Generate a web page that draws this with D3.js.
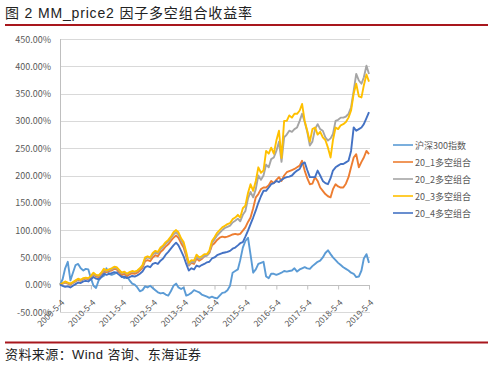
<!DOCTYPE html>
<html><head><meta charset="utf-8">
<script src="https://cdn.jsdelivr.net/npm/d3@7"></script>
<style>body{margin:0;background:#fff}svg{display:block}</style>
</head><body><svg id="c" width="494" height="367"></svg>
<script>
const title = "图 2 MM_price2 因子多空组合收益率";
const source = "资料来源：Wind 咨询、东海证券";
const seriesNames = ["沪深300指数","20_1多空组合","20_2多空组合","20_3多空组合","20_4多空组合"];
const seriesColors = ["#5B9BD5","#ED7D31","#A5A5A5","#FFC000","#4472C4"];
const startDate = "2009-05-04", endDate = "2019-05-04";
const yTicks = [-50,0,50,100,150,200,250,300,350,400,450];
const xTickYears = [2009,2010,2011,2012,2013,2014,2015,2016,2017,2018,2019];

const csi300 = [0,10,30,42,8,22,36,38,30,26, 29,28,12,-2,-6,8,14,16,30,20, 18,20,22,24,16,12,15,8,2,0,
 -5,-12,-10,-3,-5,-2,-6,-10,-14,-16, -15,-18,-20,-12,-2,2,-5,-8,-5,-20, -18,-15,-10,-12,-14,-18,-20,-22,-24,-22,
 -24,-25,-20,-15,-14,-10,-2,22,25,28, 45,68,80,86,55,22,28,38,40,42, 15,12,20,20,18,20,22,25,24,25,
 26,30,24,28,30,32,30,29,34,38, 42,44,50,58,63,56,50,45,40,36, 32,29,26,22,20,14,15,26,48,56, 40];
const ls20_1 = [0,2,4,2,0,3,6,9,7,10, 11,10,14,19,15,14,19,25,23,25, 26,29,28,23,18,20,16,19,21,20,
 22,26,31,43,45,43,50,54,52,60, 64,70,74,80,86,90,86,76,68,52, 35,40,38,48,44,47,52,54,58,72,
 76,82,86,88,87,88,90,92,93,92, 93,99,105,115,123,140,160,166,175,178, 178,182,190,186,192,197,190,200,206,208,
 210,212,215,218,227,209,195,184,185,197, 190,178,172,166,162,160,175,184,180,178, 178,185,197,215,233,239,215,225,233,245, 239];
const ls20_2 = [0,2,5,3,1,4,7,10,8,11, 12,11,15,20,17,16,21,27,25,27, 28,31,30,26,21,23,19,22,24,23,
 25,29,34,47,50,48,55,59,57,65, 69,75,79,85,92,96,92,82,74,56, 36,42,41,51,47,49,53,53,59,76,
 83,90,95,100,104,106,108,114,117,121, 116,128,135,158,170,160,175,200,192,200, 220,215,230,233,245,262,225,270,275,282,
 280,285,288,300,313,298,280,255,262,285, 294,285,282,270,264,268,276,300,302,306, 306,308,313,325,355,386,374,368,380,401, 386];
const ls20_3 = [0,3,6,4,2,5,8,11,9,12, 13,12,16,22,18,17,22,29,26,28, 30,33,32,27,22,24,20,23,25,24,
 26,30,36,50,52,50,58,62,60,68, 72,78,82,88,96,100,96,85,78,60, 40,45,44,55,50,52,56,56,62,80,
 87,95,100,105,108,111,113,120,123,128, 123,140,145,168,184,172,190,215,205,209, 245,240,251,240,264,282,232,300,300,310,
 306,313,313,319,331,300,282,262,285,288, 275,280,270,265,251,233,265,288,285,292, 294,298,306,319,350,368,345,343,365,385, 372];
const ls20_4 = [0,-2,-4,-3,-5,-2,1,4,3,6, 7,6,10,14,11,10,14,20,18,20, 21,23,22,18,14,15,12,14,16,15,
 17,20,24,32,34,32,38,40,38,44, 48,55,60,66,72,77,72,62,52,38, 26,30,28,35,33,36,38,41,42,48,
 50,54,56,58,59,60,62,66,68,72, 76,78,88,99,111,123,136,150,162,172, 172,178,184,186,190,188,192,195,197,198,
 200,205,209,212,221,224,210,197,197,197, 209,200,190,186,184,195,209,215,218,221, 221,224,227,245,288,282,285,288,294,305, 316];
const seriesValues = [csi300, ls20_1, ls20_2, ls20_3, ls20_4];

const parse = d3.timeParse("%Y-%m-%d");
const t0 = parse(startDate), t1 = parse(endDate);
const months = d3.range(csi300.length).map(i => d3.timeMonth.offset(t0, i));

const svg = d3.select("#c");
svg.append("rect").attr("width",494).attr("height",367).attr("fill","#fff");

const L = 60, R = 370, T = 39, B = 312;
const x = d3.scaleTime().domain([t0, t1]).range([L, 369]);
const y = d3.scaleLinear().domain([-50, 450]).range([B, T]);
const font = "'Noto Sans CJK SC','Liberation Sans',sans-serif";

// title & source
svg.append("text").attr("x",5).attr("y",18).attr("font-family","'Liberation Sans','Noto Sans CJK SC',sans-serif")
  .attr("font-size",14).attr("fill","#222").attr("textLength",247).attr("lengthAdjust","spacing").text(title);
svg.append("line").attr("x1",5).attr("x2",488).attr("y1",25).attr("y2",25).attr("stroke","#A8171D").attr("stroke-width",2);
svg.append("line").attr("x1",5).attr("x2",488).attr("y1",342.5).attr("y2",342.5).attr("stroke","#A8171D").attr("stroke-width",2);
svg.append("text").attr("x",5).attr("y",359).attr("font-family","'Liberation Sans','Noto Sans CJK SC',sans-serif")
  .attr("font-size",13).attr("fill","#222").attr("textLength",196).attr("lengthAdjust","spacing").text(source);

// gridlines
svg.append("g").selectAll("line").data(yTicks).join("line")
  .attr("x1",L).attr("x2",R).attr("y1",d=>Math.round(y(d))+0.5).attr("y2",d=>Math.round(y(d))+0.5)
  .attr("stroke","#D9D9D9").attr("stroke-width",1);
// y labels
svg.append("g").selectAll("text").data(yTicks).join("text")
  .attr("x",51).attr("y",d=>y(d)+3.5).attr("text-anchor","end")
  .attr("font-family",font).attr("font-size",9).attr("fill","#595959")
  .text(d=>d.toFixed(2)+"%");
svg.append("line").attr("x1",L+0.5).attr("x2",L+0.5).attr("y1",T).attr("y2",B).attr("stroke","#BFBFBF");

// x axis at 0
const xTicks = xTickYears.map(yr => new Date(yr,4,4));
const xAxis = d3.axisBottom(x).tickValues(xTicks).tickSize(4).tickFormat("");
const gx = svg.append("g").attr("transform",`translate(0,${Math.round(y(0))+0.5})`).call(xAxis);
gx.select(".domain").attr("stroke","#BFBFBF").attr("d",`M${L},0H${R}`);
gx.selectAll(".tick line").attr("stroke","#BFBFBF");
const fmt = d3.timeFormat("%Y-%-m-%-d");
svg.append("g").selectAll("text").data(xTicks).join("text")
  .attr("transform",d=>`translate(${x(d)+3},${301}) rotate(-45)`)
  .attr("text-anchor","end").attr("dy","0.35em")
  .attr("font-family",font).attr("font-size",8.5).attr("fill","#595959")
  .text(d=>fmt(d));

// lines
const line = d3.line().x((d,i)=>x(months[i])).y(d=>y(d));
seriesValues.forEach((vals,k)=>{
  svg.append("path").datum(vals).attr("d",line).attr("fill","none")
    .attr("stroke",seriesColors[k]).attr("stroke-width",1.9).attr("stroke-linejoin","round");
});

// legend
const lg = svg.append("g").selectAll("g").data(seriesNames).join("g")
  .attr("transform",(d,i)=>`translate(393,${145+i*17})`);
lg.append("line").attr("x1",0).attr("x2",20).attr("stroke",(d,i)=>seriesColors[i]).attr("stroke-width",1.6);
lg.append("text").attr("x",22).attr("y",3.5).attr("font-family",font).attr("font-size",9).attr("fill","#595959").text(d=>d);
</script></body></html>
